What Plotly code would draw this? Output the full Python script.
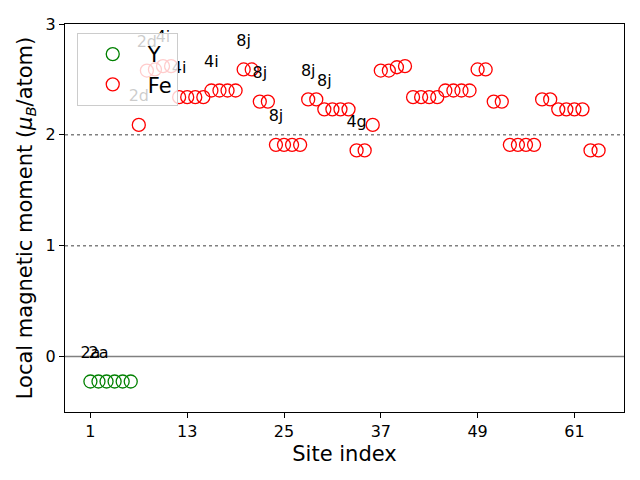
import plotly.graph_objects as go

# ---- data ----
y_sites = [1, 2, 3, 4, 5, 6]
y_moments = [-0.225, -0.225, -0.225, -0.225, -0.225, -0.225]

fe_sites = list(range(7, 65))
fe_moments = [
    2.09,                    # 7
    2.58, 2.59, 2.62, 2.62,  # 8-11
    2.34, 2.34, 2.34, 2.34,  # 12-15
    2.40, 2.40, 2.40, 2.40,  # 16-19
    2.59, 2.59,              # 20-21
    2.30, 2.30,              # 22-23
    1.91, 1.91, 1.91, 1.91,  # 24-27
    2.32, 2.32,              # 28-29
    2.23, 2.23, 2.23, 2.23,  # 30-33
    1.86, 1.86,              # 34-35
    2.09,                    # 36
    2.58, 2.58, 2.61, 2.62,  # 37-40
    2.34, 2.34, 2.34, 2.34,  # 41-44
    2.40, 2.40, 2.40, 2.40,  # 45-48
    2.59, 2.59,              # 49-50
    2.30, 2.30,              # 51-52
    1.91, 1.91, 1.91, 1.91,  # 53-56
    2.32, 2.32,              # 57-58
    2.23, 2.23, 2.23, 2.23,  # 59-62
    1.86, 1.86,              # 63-64
]

label_sites = [1, 2, 7, 8, 10, 12, 16, 20, 22, 24, 28, 30, 34]
label_texts = ['2a', '2a', '2d', '2d', '4i', '4i', '4i', '8j', '8j', '8j', '8j', '8j', '4g']

x_ticks = [1, 13, 25, 37, 49, 61]
y_ticks = [0, 1, 2, 3]

# ---- build ----
all_vals = dict(zip(y_sites, y_moments))
all_vals.update(dict(zip(fe_sites, fe_moments)))
label_offset = 0.25
label_y = [all_vals[s] + label_offset for s in label_sites]

FONT = "DejaVu Sans"
fig = go.Figure()
fig.add_trace(go.Scatter(
    x=y_sites, y=y_moments, mode='markers', name='Y',
    marker=dict(symbol='circle-open', size=13, color='green', line=dict(width=1.3, color='green')),
))
fig.add_trace(go.Scatter(
    x=fe_sites, y=fe_moments, mode='markers', name='Fe',
    marker=dict(symbol='circle-open', size=13, color='red', line=dict(width=1.3, color='red')),
))
fig.add_trace(go.Scatter(
    x=label_sites, y=label_y, mode='text', text=label_texts,
    textposition='middle center', showlegend=False,
    textfont=dict(family=FONT, size=16, color='black'),
))

for yv, dash in [(0, 'solid'), (1, 'dot'), (2, 'dot')]:
    fig.add_shape(type='line', xref='paper', x0=0, x1=1, yref='y', y0=yv, y1=yv,
                  line=dict(color='gray', width=1.5, dash=dash), layer='below')

fig.update_layout(
    width=624, height=464,
    margin=dict(l=57, r=7, t=14, b=60),
    paper_bgcolor='white', plot_bgcolor='white',
    font=dict(family=FONT, color='black'),
    showlegend=True,
    legend=dict(
        x=0.021, y=0.977, xanchor='left', yanchor='top',
        bgcolor='rgba(255,255,255,0.8)', bordercolor='#cccccc', borderwidth=1,
        font=dict(family=FONT, size=21),
        itemwidth=60, tracegroupgap=0,
    ),
    xaxis=dict(
        range=[-2.15, 67.15], tickvals=x_ticks, ticktext=[str(t) for t in x_ticks],
        showline=True, mirror=True, linecolor='black', linewidth=1.1,
        ticks='outside', ticklen=5, tickwidth=1.1, tickcolor='black',
        showgrid=False, zeroline=False,
        tickfont=dict(family=FONT, size=16),
        title=dict(text='Site index', font=dict(family=FONT, size=21), standoff=6),
    ),
    yaxis=dict(
        range=[-0.5, 3], tickvals=y_ticks, ticktext=[str(t) for t in y_ticks],
        showline=True, mirror=True, linecolor='black', linewidth=1.1,
        ticks='outside', ticklen=5, tickwidth=1.1, tickcolor='black',
        showgrid=False, zeroline=False,
        tickfont=dict(family=FONT, size=16),
        title=dict(text='Local magnetic moment (<i>μ<sub>B</sub></i>/atom)', font=dict(family=FONT, size=21), standoff=7),
    ),
)

fig.write_html("out.html")
